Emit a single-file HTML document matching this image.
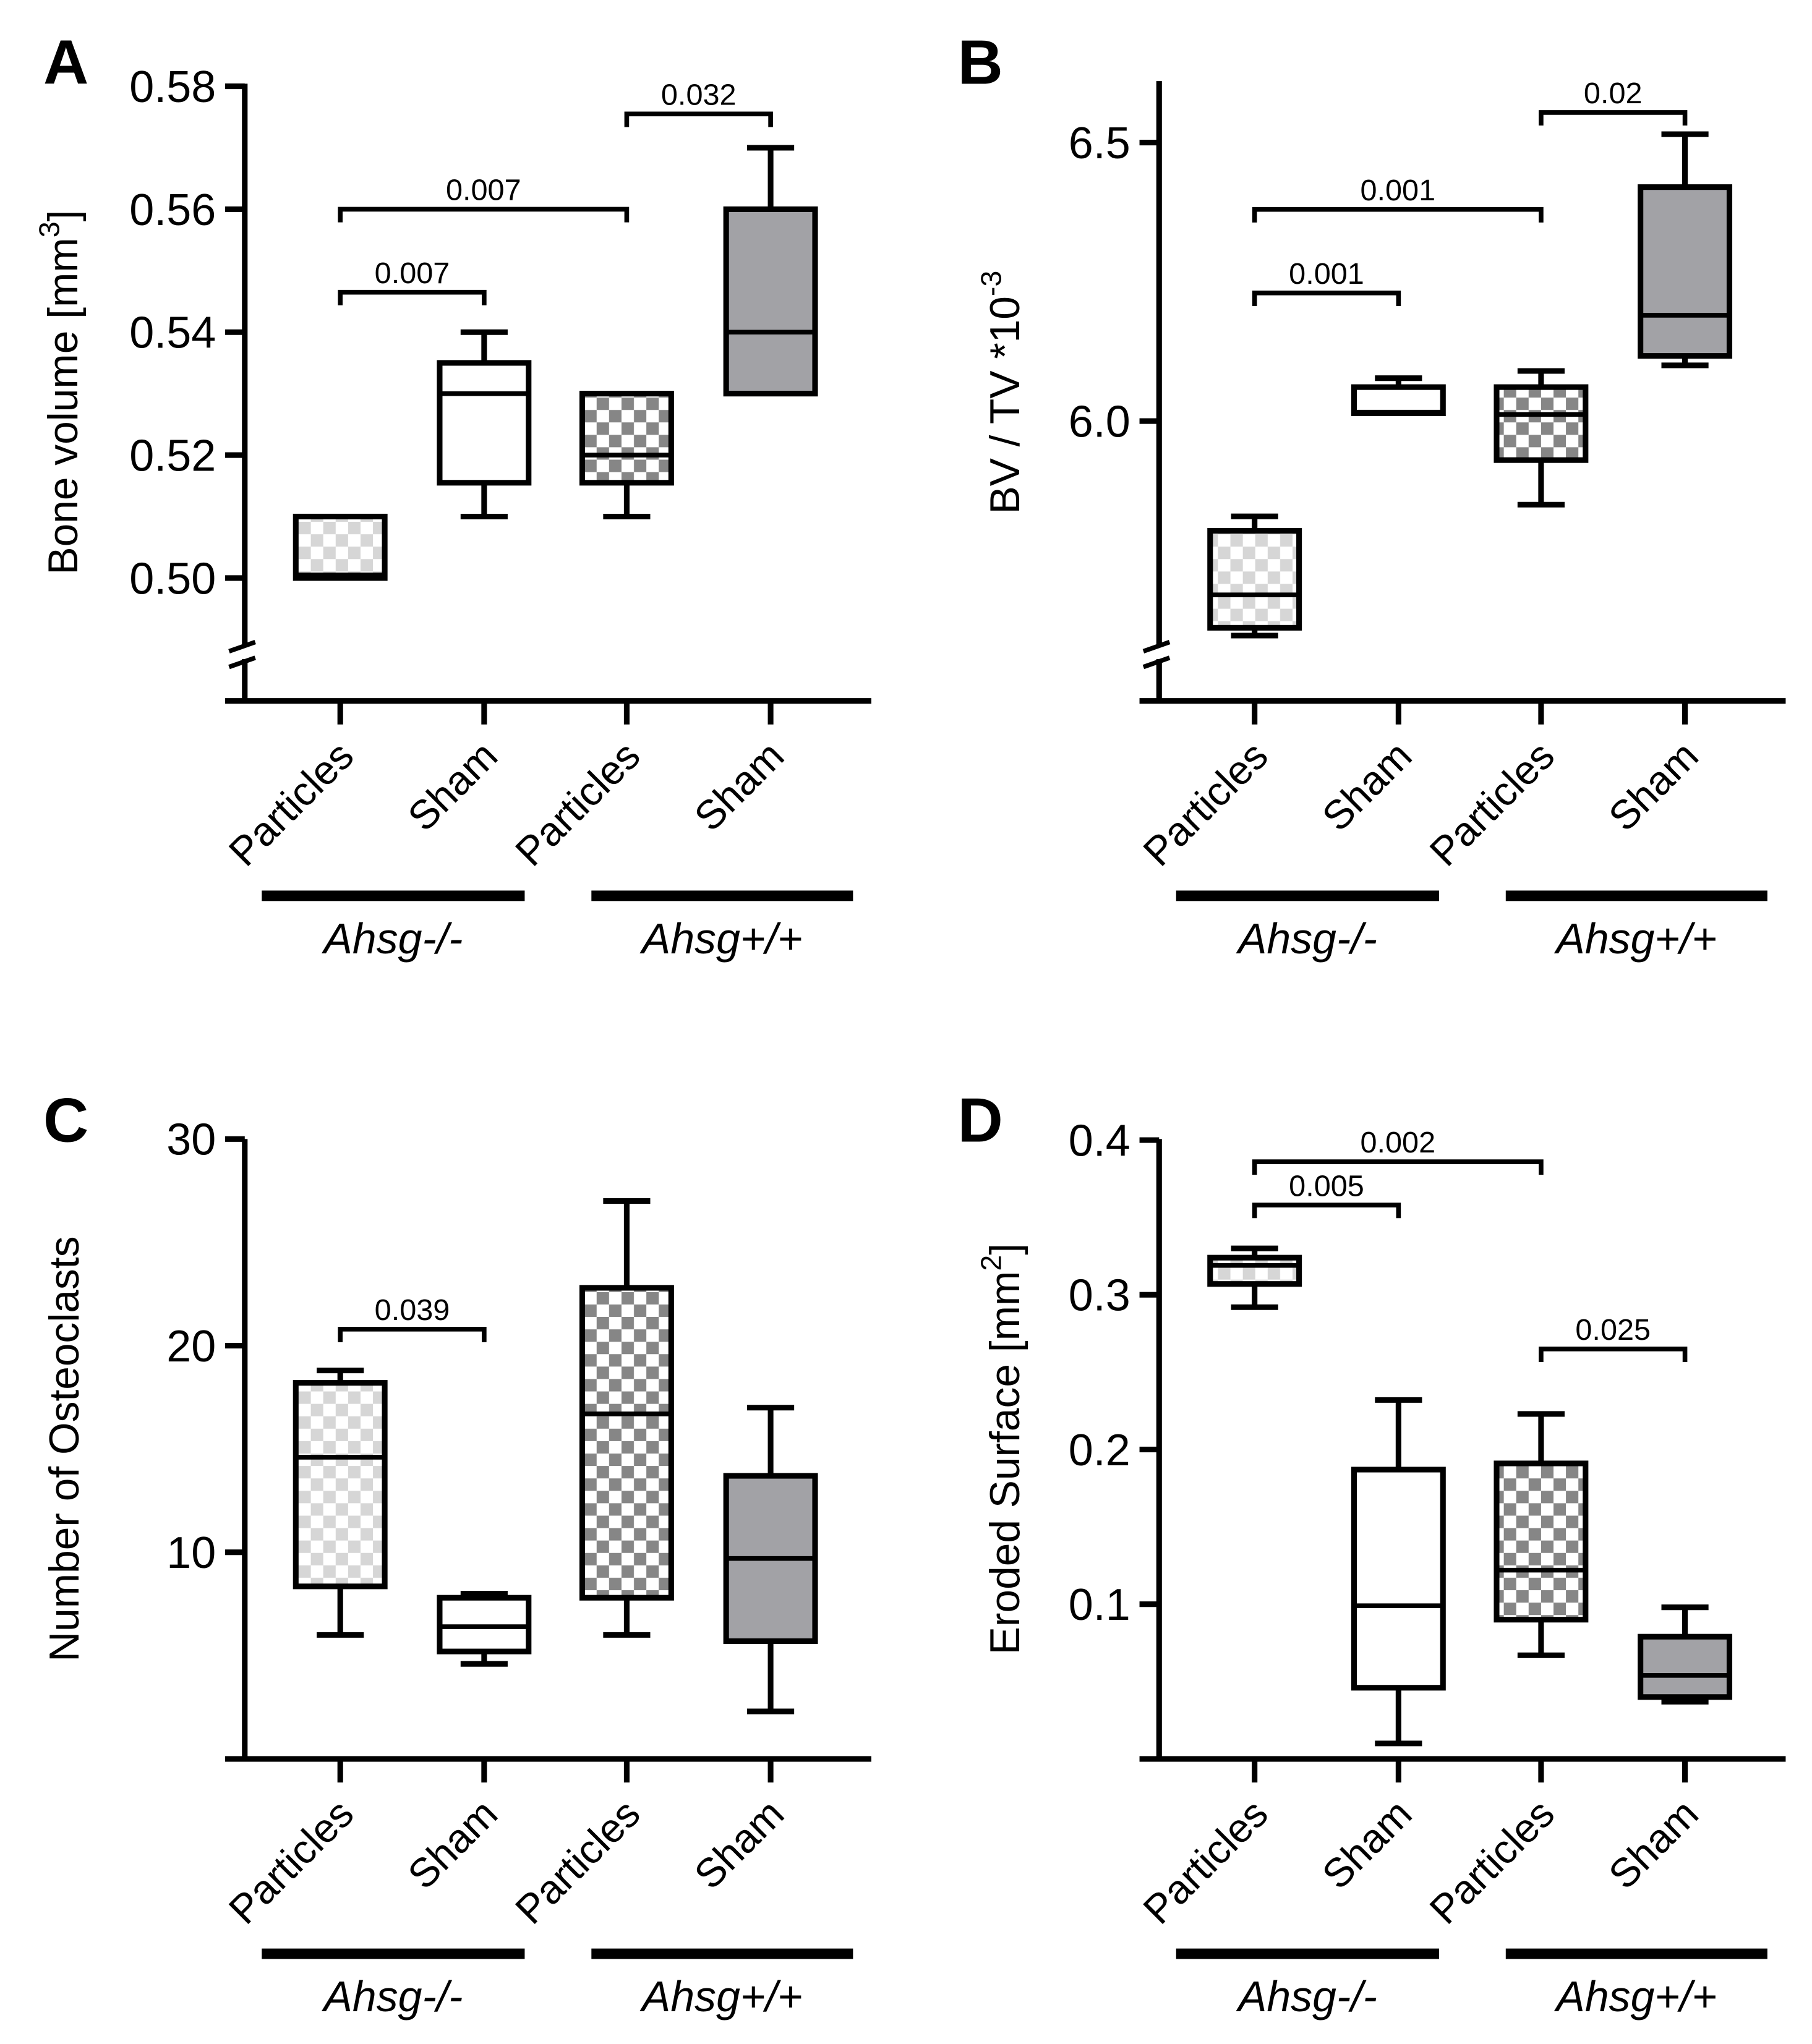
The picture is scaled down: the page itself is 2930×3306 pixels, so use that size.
<!DOCTYPE html>
<html><head><meta charset="utf-8"><style>
html,body{margin:0;padding:0;background:#fff}
svg{display:block}
text{font-family:"Liberation Sans",Arial,sans-serif;fill:#000}
</style></head>
<body>
<svg id="fig" width="2930" height="3306" viewBox="0 0 1385 1563" xmlns="http://www.w3.org/2000/svg">
<defs>
<pattern id="lightCheck" patternUnits="userSpaceOnUse" width="19" height="19">
<rect width="19" height="19" fill="#fff"/><rect width="9.5" height="9.5" fill="#d6d6d6"/><rect x="9.5" y="9.5" width="9.5" height="9.5" fill="#d6d6d6"/>
</pattern>
<pattern id="darkCheck" patternUnits="userSpaceOnUse" width="19" height="19">
<rect width="19" height="19" fill="#fff"/><rect width="9.5" height="9.5" fill="#868686"/><rect x="9.5" y="9.5" width="9.5" height="9.5" fill="#868686"/>
</pattern>
</defs>
</svg>
<script>
// Shared categories
const categories = ["Particles","Sham","Particles","Sham"];
const groups = ["Ahsg-/-","Ahsg+/+"];
const fills = ["url(#lightCheck)","#fff","url(#darkCheck)","#a2a2a6"];

// Panel A: Bone volume
const minA = [0.500,0.510,0.510,0.530];
const q1A  = [0.500,0.5155,0.5155,0.530];
const medA = [0.5005,0.530,0.520,0.540];
const q3A  = [0.510,0.535,0.530,0.560];
const maxA = [0.510,0.540,0.530,0.570];
const ticksA = [0.50,0.52,0.54,0.56,0.58];
const tickLabelsA = ["0.50","0.52","0.54","0.56","0.58"];
const bracketPairsA = [[0,1],[0,2],[2,3]];
const bracketValsA = [0.5465,0.560,0.5755];
const pLabelsA = ["0.007","0.007","0.032"];

// Panel B: BV/TV
const minB = [5.615,6.014,5.850,6.100];
const q1B  = [5.629,6.014,5.930,6.117];
const medB = [5.688,6.016,6.012,6.190];
const q3B  = [5.803,6.061,6.061,6.420];
const maxB = [5.829,6.077,6.090,6.515];
const ticksB = [6.0,6.5];
const tickLabelsB = ["6.0","6.5"];
const bracketPairsB = [[0,1],[0,2],[2,3]];
const bracketValsB = [6.23,6.38,6.554];
const pLabelsB = ["0.001","0.001","0.02"];

// Panel C: Osteoclasts
const minC = [6.0,4.6,6.0,2.3];
const q1C  = [8.35,5.2,7.8,5.7];
const medC = [14.6,6.4,16.7,9.7];
const q3C  = [18.2,7.8,22.8,13.7];
const maxC = [18.8,8.0,27.0,17.0];
const ticksC = [10,20,30];
const tickLabelsC = ["10","20","30"];
const bracketPairsC = [[0,1]];
const bracketValsC = [20.8];
const pLabelsC = ["0.039"];

// Panel D: Eroded surface
const minD = [0.292,0.010,0.067,0.037];
const q1D  = [0.307,0.046,0.090,0.040];
const medD = [0.319,0.099,0.122,0.054];
const q3D  = [0.324,0.187,0.191,0.079];
const maxD = [0.330,0.232,0.223,0.098];
const ticksD = [0.1,0.2,0.3,0.4];
const tickLabelsD = ["0.1","0.2","0.3","0.4"];
const bracketPairsD = [[0,1],[0,2],[2,3]];
const bracketValsD = [0.358,0.386,0.265];
const pLabelsD = ["0.005","0.002","0.025"];

const NS="http://www.w3.org/2000/svg";
const svg=document.getElementById('fig');
function mk(tag,attrs,parent,text){const e=document.createElementNS(NS,tag);for(const k in attrs)e.setAttribute(k,attrs[k]);if(text!==undefined)e.textContent=text;(parent||svg).appendChild(e);return e;}
function line(p,x1,y1,x2,y2,w){return mk('line',{x1,y1,x2,y2,stroke:'#000','stroke-width':w||4.3},p);}

function panel(o){
  const g=mk('g',{});
  
  
  const dx=o.dx, dy=o.dy;
  const ax=187+dx, base=536+dy;
  const y=o.scale;
  const xs=[260,370,479,589].map(v=>v+dx);
  const L=mk('text',{x:33+dx,y:64+dy,'font-size':48,'font-weight':'bold'},g,o.letter);
  
  
  const ya=line(g,ax,o.axisTop+dy,ax,base+2);
  
  
  const xa=line(g,172+dx,base,666+dx,base);
  
  
  if(o.brk){
    mk('rect',{x:ax-6,y:494+dy,width:12,height:10,fill:'#fff'},g);
    const b1=line(g,ax-12,498+dy,ax+8,491+dy,3.5);
    
    
    const b2=line(g,ax-12,510+dy,ax+8,503+dy,3.5);
    
    
  }
  o.ticks.forEach((t,i)=>{
    const ty=y(t)+dy;
    const tk=line(g,ax-15,ty,ax,ty);
    
    
    const tl=mk('text',{x:ax-22,y:ty+12,'font-size':34,'text-anchor':'end'},g,o.tickLabels[i]);
    
    
  });
  const tt=mk('text',{x:0,y:0,'font-size':32,'text-anchor':'middle',transform:`translate(${o.titleX+dx},${o.titleY+dy}) rotate(-90)`},g);
  
  
  tt.innerHTML=o.title;
  categories.forEach((c,i)=>{
    const x=xs[i];
    const tk=line(g,x,base,x,base+18);
    
    
    const lb=mk('text',{x:0,y:0,'font-size':31,'text-anchor':'end',transform:`translate(${x+12},${base+44}) rotate(-45)`},g,c);
    
    
    const bg=mk('g',{},g);
    
    
    const yMin=y(o.min[i])+dy,yQ1=y(o.q1[i])+dy,yMed=y(o.med[i])+dy,yQ3=y(o.q3[i])+dy,yMax=y(o.max[i])+dy;
    if(yMax<yQ3-0.5){line(bg,x,yMax,x,yQ3);line(bg,x-18,yMax,x+18,yMax);}
    if(yMin>yQ1+0.5){line(bg,x,yQ1,x,yMin);line(bg,x-18,yMin,x+18,yMin);}
    const r=mk('rect',{x:x-34,y:yQ3,width:68,height:Math.max(yQ1-yQ3,0.5),fill:fills[i],stroke:'#000','stroke-width':4.3},bg);
    
    
    const m=line(bg,x-34,yMed,x+34,yMed,3.6);
    
    
  });
  o.bPairs.forEach((p,i)=>{
    const by=y(o.bVals[i])+dy, x1=xs[p[0]], x2=xs[p[1]];
    const bg=mk('g',{},g);
    
    
    mk('polyline',{points:`${x1},${by+10} ${x1},${by} ${x2},${by} ${x2},${by+10}`,fill:'none',stroke:'#000','stroke-width':3.6},bg);
    const pt=mk('text',{x:(x1+x2)/2,y:by-7,'font-size':23,'text-anchor':'middle'},bg,o.pLabels[i]);
    
    
  });
  [[200,401],[452,652]].forEach((r,i)=>{
    const gb=mk('rect',{x:r[0]+dx,y:681+dy,width:r[1]-r[0],height:8,fill:'#000'},g);
    
    
    const gl=mk('text',{x:(r[0]+r[1])/2+dx,y:729+dy,'font-size':33,'font-style':'italic','text-anchor':'middle'},g,groups[i]);
    
    
  });
}

panel({letter:'A',dx:0,dy:0,axisTop:64,brk:true,scale:v=>442-(v-0.50)/0.02*94,
  min:minA,q1:q1A,med:medA,q3:q3A,max:maxA,ticks:ticksA,tickLabels:tickLabelsA,
  bPairs:bracketPairsA,bVals:bracketValsA,pLabels:pLabelsA,titleX:59,titleY:300,
  title:'Bone volume [mm<tspan dy="-14" font-size="22">3</tspan><tspan dy="14">]</tspan>'});
panel({letter:'B',dx:699,dy:0,axisTop:62,brk:true,scale:v=>322-(v-6.0)/0.5*213,
  min:minB,q1:q1B,med:medB,q3:q3B,max:maxB,ticks:ticksB,tickLabels:tickLabelsB,
  bPairs:bracketPairsB,bVals:bracketValsB,pLabels:pLabelsB,titleX:80,titleY:300,
  title:'BV / TV *10<tspan dy="-14" font-size="22">-3</tspan>'});
panel({letter:'C',dx:0,dy:809,axisTop:62,brk:false,scale:v=>536-v*15.8,
  min:minC,q1:q1C,med:medC,q3:q3C,max:maxC,ticks:ticksC,tickLabels:tickLabelsC,
  bPairs:bracketPairsC,bVals:bracketValsC,pLabels:pLabelsC,titleX:60,titleY:299,
  title:'Number of Osteoclasts'});
panel({letter:'D',dx:699,dy:809,axisTop:62,brk:false,scale:v=>536-v*1183,
  min:minD,q1:q1D,med:medD,q3:q3D,max:maxD,ticks:ticksD,tickLabels:tickLabelsD,
  bPairs:bracketPairsD,bVals:bracketValsD,pLabels:pLabelsD,titleX:80,titleY:299,
  title:'Eroded Surface [mm<tspan dy="-14" font-size="22">2</tspan><tspan dy="14">]</tspan>'});
</script>
</body></html>
